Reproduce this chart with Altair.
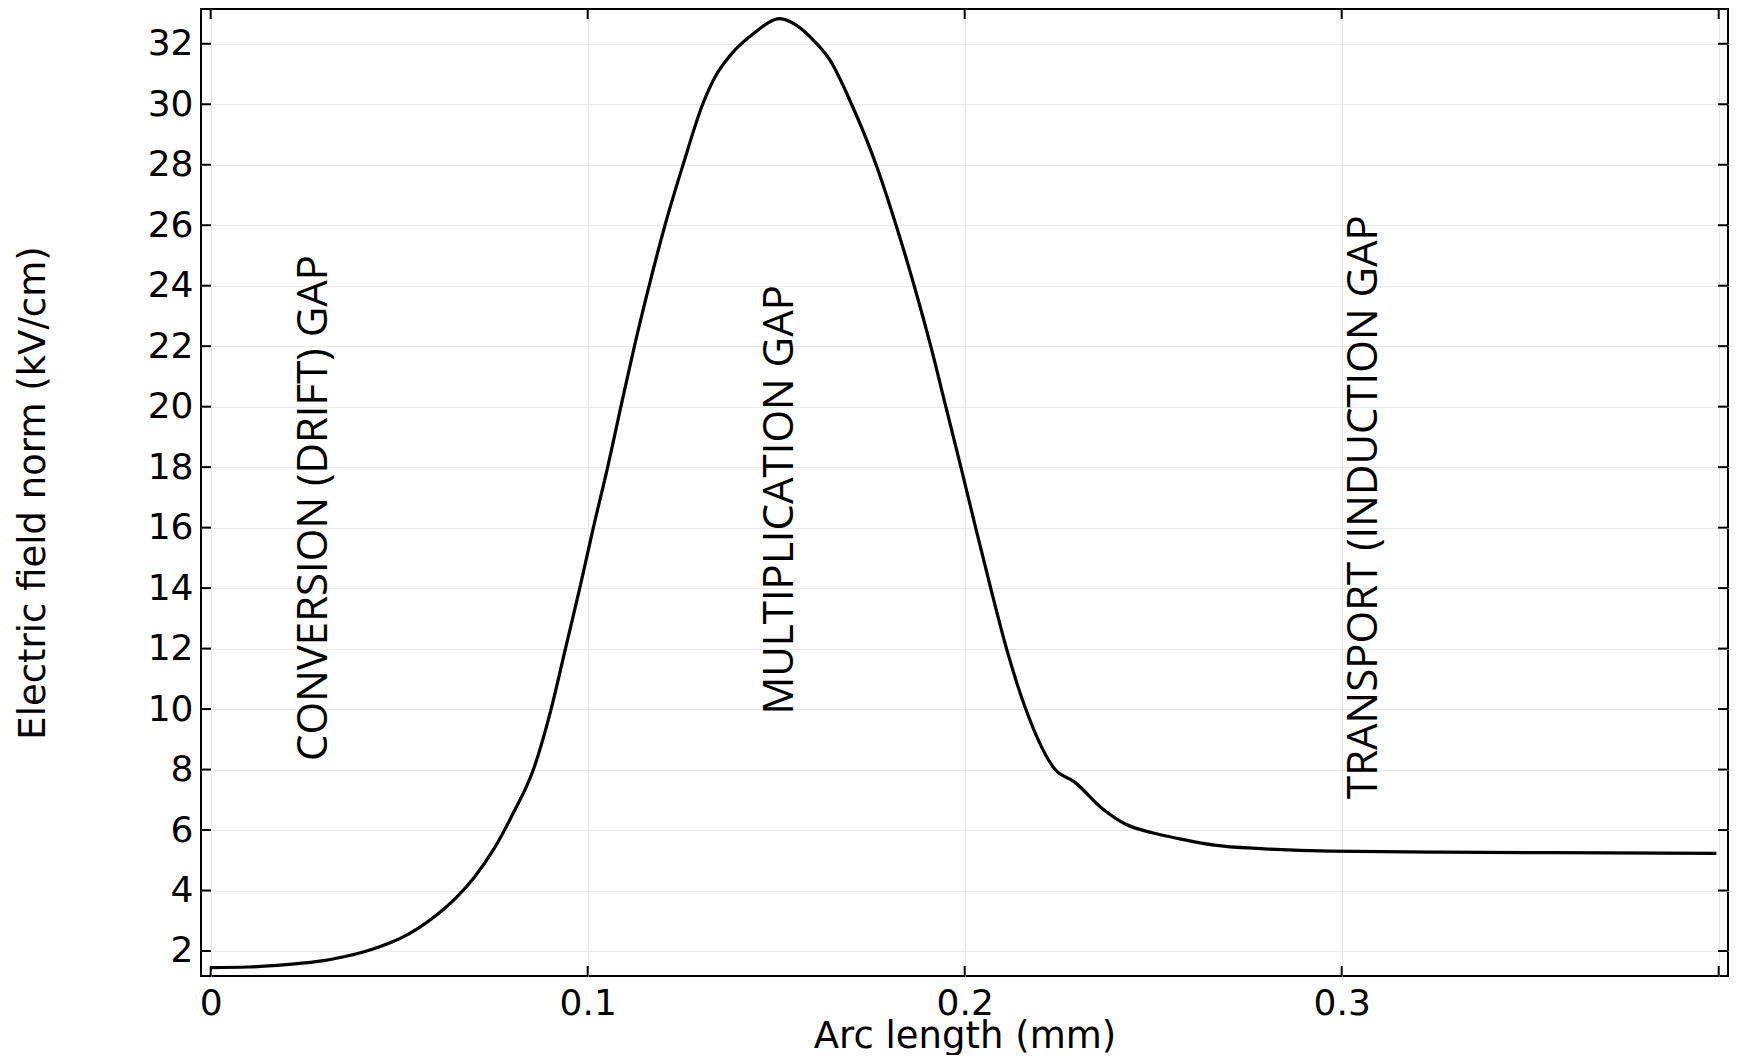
import altair as alt
import pandas as pd

# Curve: arc length (mm) vs electric field norm (kV/cm)
arc_mm = [0.000, 0.010, 0.020, 0.030, 0.035, 0.040, 0.045, 0.050, 0.055, 0.060,
          0.065, 0.070, 0.075, 0.080, 0.0856, 0.0903, 0.0941, 0.0979, 0.1015, 0.1053,
          0.1088, 0.1124, 0.1163, 0.1205, 0.1253, 0.1305, 0.1340, 0.1377, 0.1441, 0.1510,
          0.1555, 0.1600, 0.1643, 0.1700, 0.1765, 0.1818, 0.1866, 0.1910, 0.1950, 0.1990,
          0.2029, 0.2069, 0.2111, 0.2162, 0.2240, 0.2290, 0.2368, 0.2426, 0.2500, 0.2574,
          0.2662, 0.2794, 0.2970, 0.3265, 0.3559, 0.3994]
field_kv = [1.45, 1.47, 1.55, 1.68, 1.80, 1.95, 2.15, 2.40, 2.75, 3.20,
            3.75, 4.45, 5.35, 6.50, 8.0, 10.0, 12.0, 14.0, 16.0, 18.0,
            20.0, 22.0, 24.0, 26.0, 28.0, 30.0, 30.95, 31.6, 32.35, 32.83,
            32.6, 32.1, 31.45, 30.0, 28.0, 26.0, 24.0, 22.0, 20.0, 18.0,
            16.0, 14.0, 12.0, 10.0, 8.0, 7.6, 6.68, 6.2, 5.9, 5.7,
            5.5, 5.38, 5.30, 5.27, 5.25, 5.23]

x_ticks = [0.0, 0.1, 0.2, 0.3, 0.4]
y_ticks = [2, 4, 6, 8, 10, 12, 14, 16, 18, 20, 22, 24, 26, 28, 30, 32]

gap_labels = ["CONVERSION (DRIFT) GAP", "MULTIPLICATION GAP", "TRANSPORT (INDUCTION GAP"]
gap_x = [0.0274, 0.151, 0.306]
gap_y = [16.65, 16.92, 16.68]

W, H = 1527, 967
x_dom = [-0.00257, 0.40247]
y_dom = [1.173, 33.15]

curve = pd.DataFrame({"x": arc_mm, "y": field_kv})
xt = pd.DataFrame({"x": x_ticks})
yt = pd.DataFrame({"y": y_ticks})
labels = pd.DataFrame({"t": gap_labels, "x": gap_x, "y": gap_y})

xs = alt.Scale(domain=x_dom, nice=False, zero=False)
ys = alt.Scale(domain=y_dom, nice=False, zero=False)

FONT = "DejaVu Sans"
XT = "Arc length (mm)"
YT = "Electric field norm (kV/cm)"

xaxis = alt.Axis(values=x_ticks, ticks=False, domain=False, grid=True,
                 gridColor="#e9e9e9", gridWidth=1,
                 labelFont=FONT, labelFontSize=36, labelColor="black",
                 labelPadding=10, labelFlush=False,
                 labelExpr="datum.value > 0.35 ? '' : (datum.value == 0 ? '0' : format(datum.value, '.1f'))",
                 titleFont=FONT, titleFontSize=37, titleFontWeight="normal",
                 titleColor="black", titleY=71, titleBaseline="alphabetic")
yaxis = alt.Axis(values=y_ticks, ticks=False, domain=False, grid=True,
                 gridColor="#e9e9e9", gridWidth=1,
                 labelFont=FONT, labelFontSize=36, labelColor="black",
                 labelPadding=8, labelFlush=False,
                 titleFont=FONT, titleFontSize=37, titleFontWeight="normal",
                 titleColor="black", titleX=-168, titleY=H / 2,
                 titleBaseline="middle", titleAngle=270)


def X(field="x"):
    return alt.X(f"{field}:Q", scale=xs, title=XT, axis=xaxis)


def Y(field="y"):
    return alt.Y(f"{field}:Q", scale=ys, title=YT, axis=yaxis)


line = alt.Chart(curve).mark_line(color="black", strokeWidth=3.2, interpolate="monotone").encode(
    x=X(), y=Y(), order=alt.Order("x:Q"),
)

TL = 10
tick_style = dict(color="black", strokeWidth=2)
left_t = alt.Chart(yt).mark_rule(**tick_style).encode(
    y=Y(), x=alt.value(0), x2=alt.value(TL))
right_t = alt.Chart(yt).mark_rule(**tick_style).encode(
    y=Y(), x=alt.value(W - TL), x2=alt.value(W))
bottom_t = alt.Chart(xt).mark_rule(**tick_style).encode(
    x=X(), y=alt.value(H - TL), y2=alt.value(H))
top_t = alt.Chart(xt).mark_rule(**tick_style).encode(
    x=X(), y=alt.value(0), y2=alt.value(TL))

text = alt.Chart(labels).mark_text(
    font="Open Sans", fontSize=42, angle=270, align="center", baseline="middle",
    color="black").encode(
    x=X(), y=Y(), text="t:N",
)

chart = alt.layer(line, left_t, right_t, bottom_t, top_t, text).properties(
    width=W, height=H,
    autosize=alt.AutoSizeParams(type="none"),
    padding={"left": 193, "top": 1, "right": 2, "bottom": 79},
    background="white",
).configure_view(stroke="black", strokeWidth=2)

chart.save("out.html", embed_options={"renderer": "svg", "actions": False})
